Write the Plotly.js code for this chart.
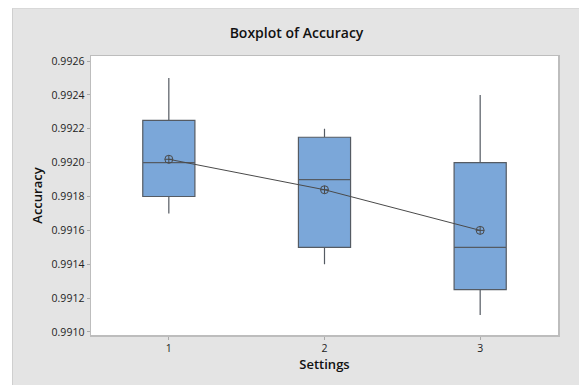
<!DOCTYPE html>
<html>
<head>
<meta charset="utf-8">
<script src="https://cdn.plot.ly/plotly-3.0.1.min.js"></script>
<style>
html,body{margin:0;padding:0;background:#fff;width:579px;height:385px;overflow:hidden;}
#chart{position:absolute;left:12px;top:8px;width:567px;height:377px;border-left:1px solid #cfcfcf;border-top:1px solid #d8d8d8;box-sizing:border-box;}
</style>
</head>
<body>
<div id="chart"></div>
<script>
const settings = ['1', '2', '3'];
const settingPos = [1, 2, 3];
const lowerWhisker = [0.99170, 0.99140, 0.99110];
const q1 = [0.99180, 0.99150, 0.99125];
const median = [0.99200, 0.99190, 0.99150];
const q3 = [0.99225, 0.99215, 0.99200];
const upperWhisker = [0.99250, 0.99220, 0.99240];
const means = [0.99202, 0.99184, 0.99160];
const yTicks = [0.9910, 0.9912, 0.9914, 0.9916, 0.9918, 0.9920, 0.9922, 0.9924, 0.9926];

const boxTrace = {
  type: 'box',
  x: settingPos,
  q1: q1,
  median: median,
  q3: q3,
  lowerfence: lowerWhisker,
  upperfence: upperWhisker,
  width: 0.335,
  whiskerwidth: 0,
  fillcolor: '#7ba7d9',
  line: {color: '#555b63', width: 1.2},
  hoverinfo: 'skip',
  showlegend: false
};

const meanTrace = {
  type: 'scatter',
  mode: 'lines+markers',
  x: settingPos,
  y: means,
  line: {color: '#4a4a4a', width: 1},
  marker: {symbol: 'circle-cross-open', size: 8, color: '#4a4a4a', line: {width: 1, color: '#4a4a4a'}},
  showlegend: false,
  hoverinfo: 'skip'
};

const layout = {
  width: 567,
  height: 377,
  paper_bgcolor: '#e4e4e4',
  plot_bgcolor: '#ffffff',
  margin: {l: 78, r: 22, t: 47, b: 51},
  font: {family: 'Open Sans, Noto Sans, sans-serif', color: '#222'},
  title: {text: 'Boxplot of Accuracy', x: 0.5, xanchor: 'center', y: 0.935, yanchor: 'middle',
          font: {size: 14, color: '#111', weight: 600}},
  xaxis: {
    range: [0.5, 3.5],
    tickmode: 'array',
    tickvals: settingPos,
    ticktext: settings,
    ticks: 'outside', ticklen: 3, tickcolor: '#aaaaaa', tickwidth: 1,
    showgrid: false, zeroline: false,
    showline: true, linecolor: '#bdbdbd', linewidth: 1.5, mirror: true,
    tickfont: {size: 10.5, color: '#222'},
    title: {text: 'Settings', font: {size: 13, color: '#111', weight: 600}, standoff: 6}
  },
  yaxis: {
    range: [0.990982, 0.992630],
    tickmode: 'array',
    tickvals: yTicks,
    ticktext: yTicks.map(v => v.toFixed(4)),
    ticks: 'outside', ticklen: 3, tickcolor: '#aaaaaa', tickwidth: 1,
    showgrid: false, zeroline: false,
    showline: true, linecolor: '#bdbdbd', linewidth: 1.5, mirror: true,
    tickfont: {size: 10.5, color: '#222'},
    title: {text: 'Accuracy', font: {size: 13, color: '#111', weight: 600}, standoff: 6}
  }
};

Plotly.newPlot('chart', [boxTrace, meanTrace], layout, {displayModeBar: false, staticPlot: true});
</script>
</body>
</html>
